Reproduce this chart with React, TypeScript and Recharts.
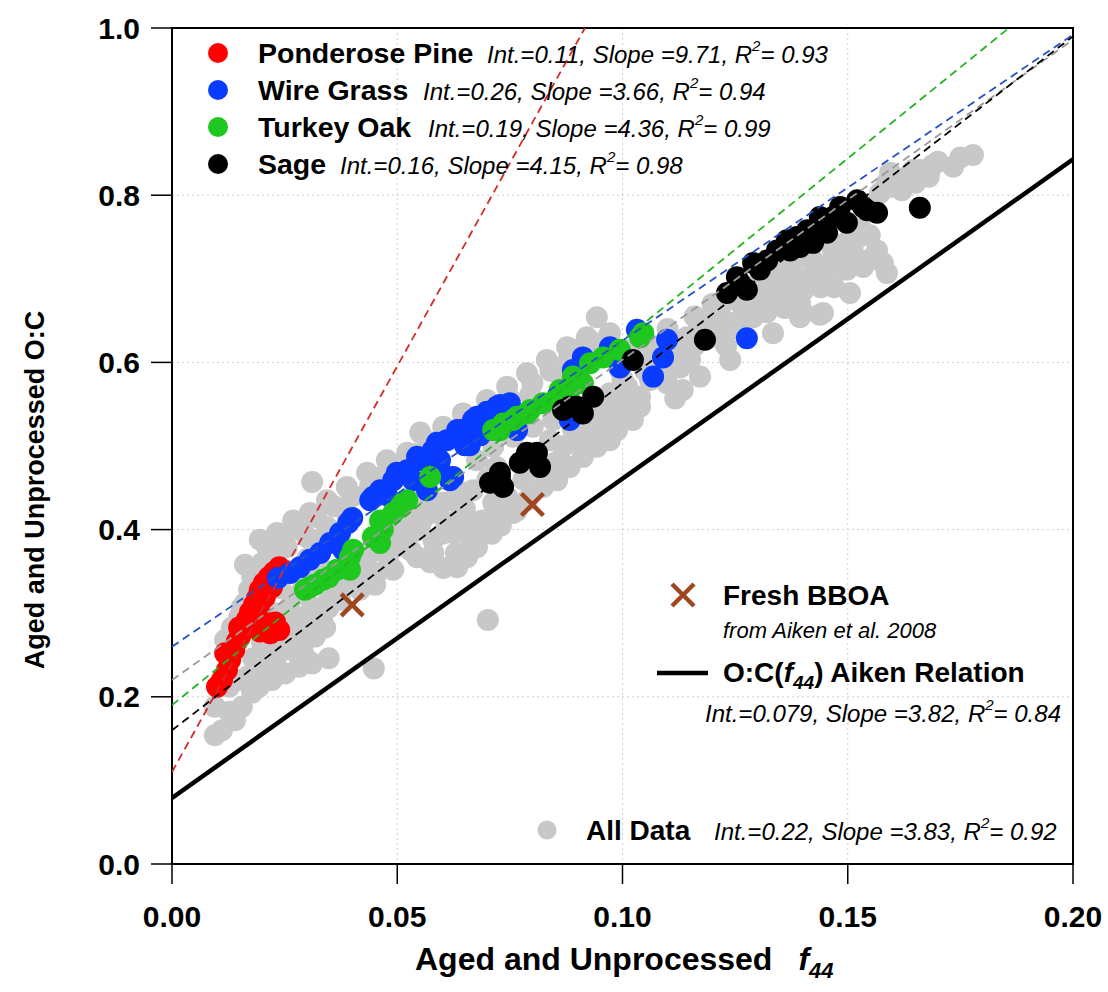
import React from "react";
import { ScatterChart, Scatter, XAxis, YAxis, CartesianGrid, ReferenceArea } from "recharts";

const FONT = '"Liberation Sans", Arial, Helvetica, sans-serif';

// ─── Axes ──────────────────────────────────────────────────────────────────────
const xTicks = [0, 0.05, 0.1, 0.15, 0.2];
const yTicks = [0, 0.2, 0.4, 0.6, 0.8, 1.0];

// ─── Data: [f44, O:C] ──────────────────────────────────────────────────────────
const ponderosePine: [number, number][] = [
  [0.0100, 0.212], [0.0111, 0.220], [0.0122, 0.232], [0.0129, 0.244], [0.0118, 0.252],
  [0.0138, 0.256], [0.0144, 0.266], [0.0151, 0.272], [0.0160, 0.282], [0.0149, 0.283],
  [0.0166, 0.292], [0.0173, 0.301], [0.0182, 0.310], [0.0189, 0.318], [0.0193, 0.307],
  [0.0195, 0.328], [0.0206, 0.319], [0.0204, 0.336], [0.0222, 0.331], [0.0215, 0.343],
  [0.0229, 0.340], [0.0226, 0.349], [0.0238, 0.355], [0.0178, 0.288], [0.0195, 0.278],
  [0.0211, 0.288], [0.0218, 0.276], [0.0229, 0.289], [0.0238, 0.280],
];

const wireGrass: [number, number][] = [
  [0.0235, 0.342], [0.0262, 0.348], [0.0284, 0.355], [0.0306, 0.364], [0.0329, 0.372],
  [0.0351, 0.384], [0.0373, 0.396], [0.0391, 0.408], [0.0380, 0.376], [0.0388, 0.372],
  [0.0400, 0.414], [0.0440, 0.435], [0.0446, 0.439], [0.0462, 0.447], [0.0477, 0.441],
  [0.0491, 0.459], [0.0499, 0.468], [0.0522, 0.471], [0.0535, 0.459], [0.0544, 0.487],
  [0.0551, 0.483], [0.0566, 0.447], [0.0579, 0.495], [0.0588, 0.504], [0.0595, 0.483],
  [0.0595, 0.471], [0.0610, 0.507], [0.0617, 0.459], [0.0624, 0.463], [0.0633, 0.519],
  [0.0639, 0.519], [0.0650, 0.501], [0.0661, 0.501], [0.0668, 0.531], [0.0677, 0.535],
  [0.0684, 0.513], [0.0699, 0.541], [0.0706, 0.525], [0.0721, 0.547], [0.0728, 0.549],
  [0.0750, 0.551], [0.0766, 0.519], [0.0883, 0.531], [0.0890, 0.591], [0.0912, 0.606],
  [0.0972, 0.618], [0.0994, 0.594], [0.1032, 0.639], [0.1068, 0.583], [0.1090, 0.606],
  [0.1099, 0.627], [0.1276, 0.629],
];

const turkeyOak: [number, number][] = [
  [0.0295, 0.328], [0.0306, 0.331], [0.0317, 0.334], [0.0335, 0.340], [0.0348, 0.343],
  [0.0366, 0.352], [0.0395, 0.352], [0.0395, 0.367], [0.0402, 0.376], [0.0446, 0.391],
  [0.0462, 0.384], [0.0462, 0.411], [0.0468, 0.400], [0.0491, 0.420], [0.0506, 0.427],
  [0.0513, 0.432], [0.0522, 0.435], [0.0573, 0.463], [0.0713, 0.519], [0.0728, 0.519],
  [0.0735, 0.527], [0.0757, 0.531], [0.0766, 0.535], [0.0788, 0.539], [0.0795, 0.543],
  [0.0824, 0.551], [0.0855, 0.559], [0.0861, 0.567], [0.0883, 0.567], [0.0890, 0.583],
  [0.0912, 0.575], [0.0928, 0.599], [0.0957, 0.606], [0.0994, 0.615], [0.1039, 0.630],
  [0.1046, 0.635],
];

const sage: [number, number][] = [
  [0.0706, 0.456], [0.0728, 0.468], [0.0735, 0.451], [0.0728, 0.463], [0.0772, 0.480],
  [0.0788, 0.492], [0.0810, 0.492], [0.0817, 0.475], [0.0868, 0.543], [0.0883, 0.547],
  [0.0899, 0.547], [0.0912, 0.539], [0.0935, 0.559], [0.1023, 0.603], [0.1183, 0.627],
  [0.1232, 0.683], [0.1254, 0.702], [0.1261, 0.695], [0.1276, 0.687], [0.1290, 0.719],
  [0.1305, 0.711], [0.1321, 0.722], [0.1343, 0.734], [0.1365, 0.746], [0.1372, 0.734],
  [0.1387, 0.750], [0.1394, 0.738], [0.1410, 0.758], [0.1423, 0.743], [0.1438, 0.774],
  [0.1438, 0.758], [0.1454, 0.755], [0.1467, 0.774], [0.1483, 0.786], [0.1498, 0.767],
  [0.1521, 0.794], [0.1534, 0.786], [0.1543, 0.782], [0.1565, 0.779], [0.1660, 0.785],
];

const allData: [number, number][] = [
  // lower-left tail
  [0.0095, 0.154], [0.0111, 0.160], [0.0140, 0.172], [0.0127, 0.182], [0.0155, 0.188],
  [0.0095, 0.188], [0.0178, 0.205], [0.0193, 0.212], [0.0127, 0.212], [0.0149, 0.220],
  [0.0222, 0.220], [0.0251, 0.228], [0.0282, 0.236], [0.0311, 0.240], [0.0348, 0.246],
  [0.0295, 0.248], [0.0266, 0.256], [0.0238, 0.260], [0.0118, 0.268], [0.0317, 0.272],
  [0.0269, 0.272], [0.0340, 0.283], [0.0260, 0.283], [0.0133, 0.283], [0.0333, 0.295],
  [0.0282, 0.295], [0.0149, 0.295], [0.0306, 0.292], [0.0348, 0.307], [0.0311, 0.307],
  [0.0260, 0.307], [0.0162, 0.312], [0.0155, 0.307], [0.0344, 0.312], [0.0373, 0.316],
  [0.0184, 0.331], [0.0171, 0.328], [0.0178, 0.343], [0.0162, 0.358], [0.0200, 0.360],
  [0.0222, 0.372], [0.0244, 0.379], [0.0448, 0.234],
  [0.0170, 0.225], [0.0200, 0.235], [0.0210, 0.250], [0.0230, 0.245], [0.0240, 0.272],
  [0.0290, 0.262], [0.0305, 0.280], [0.0180, 0.246], [0.0200, 0.265], [0.0230, 0.300],
  [0.0270, 0.320], [0.0290, 0.340], [0.0310, 0.350], [0.0350, 0.330], [0.0330, 0.355],
  [0.0300, 0.365], [0.0260, 0.350], [0.0240, 0.330],
  // upper band
  [0.0195, 0.388], [0.0233, 0.396], [0.0269, 0.411], [0.0306, 0.420], [0.0344, 0.435],
  [0.0388, 0.451], [0.0433, 0.468], [0.0477, 0.483], [0.0522, 0.492], [0.0551, 0.516],
  [0.0602, 0.523], [0.0646, 0.539], [0.0699, 0.555], [0.0744, 0.571], [0.0788, 0.587],
  [0.0832, 0.603], [0.0877, 0.618], [0.0921, 0.630], [0.0943, 0.654], [0.0972, 0.635],
  [0.0311, 0.457], [0.0218, 0.372], [0.0255, 0.379], [0.0300, 0.391], [0.0344, 0.403],
  [0.0388, 0.420], [0.0284, 0.400], [0.0329, 0.388], [0.0428, 0.441], [0.0495, 0.471],
  [0.0573, 0.495], [0.0661, 0.519], [0.0728, 0.543], [0.0795, 0.561], [0.0861, 0.585],
  [0.0917, 0.609],
  [0.0210, 0.380], [0.0250, 0.392], [0.0280, 0.405], [0.0320, 0.415], [0.0360, 0.428],
  [0.0400, 0.440], [0.0440, 0.452], [0.0460, 0.462], [0.0505, 0.478], [0.0540, 0.490],
  [0.0570, 0.505], [0.0620, 0.512], [0.0660, 0.528], [0.0700, 0.540], [0.0750, 0.556],
  [0.0800, 0.575], [0.0840, 0.590], [0.0880, 0.603], [0.0950, 0.623], [0.0900, 0.615],
  // middle band
  [0.0417, 0.372], [0.0455, 0.379], [0.0491, 0.391], [0.0535, 0.411], [0.0579, 0.423],
  [0.0624, 0.435], [0.0668, 0.447], [0.0677, 0.483], [0.0713, 0.499], [0.0757, 0.511],
  [0.0801, 0.523], [0.0846, 0.531], [0.0890, 0.539], [0.0935, 0.547], [0.0972, 0.563],
  [0.1010, 0.571], [0.1039, 0.547], [0.1023, 0.531], [0.0551, 0.435], [0.0528, 0.429],
  [0.0380, 0.331], [0.0417, 0.340], [0.0455, 0.348], [0.0491, 0.352], [0.0417, 0.328],
  [0.0451, 0.334],
  [0.0420, 0.360], [0.0440, 0.372], [0.0480, 0.368], [0.0500, 0.380], [0.0520, 0.392],
  [0.0540, 0.398], [0.0560, 0.415], [0.0590, 0.420], [0.0600, 0.432], [0.0640, 0.445],
  [0.0650, 0.425], [0.0700, 0.460], [0.0720, 0.475], [0.0580, 0.388], [0.0600, 0.395],
  // lower lobe
  [0.0544, 0.367], [0.0573, 0.361], [0.0602, 0.354], [0.0633, 0.355], [0.0655, 0.367],
  [0.0677, 0.379], [0.0661, 0.391], [0.0624, 0.396], [0.0610, 0.408], [0.0633, 0.411],
  [0.0661, 0.411], [0.0690, 0.411], [0.0721, 0.408], [0.0735, 0.420], [0.0750, 0.427],
  [0.0684, 0.400], [0.0713, 0.432], [0.0744, 0.439], [0.0757, 0.420], [0.0506, 0.400],
  [0.0551, 0.405], [0.0701, 0.292],
  [0.0530, 0.375], [0.0580, 0.372], [0.0630, 0.372], [0.0670, 0.392], [0.0710, 0.395],
  [0.0730, 0.405],
  [0.0766, 0.423], [0.0788, 0.435], [0.0824, 0.451], [0.0855, 0.459], [0.0883, 0.475],
  [0.0912, 0.487], [0.0943, 0.499], [0.0972, 0.507], [0.0988, 0.519], [0.0861, 0.483],
  [0.0906, 0.507], [0.0950, 0.525], [0.0839, 0.507],
  [0.0800, 0.445], [0.0820, 0.470], [0.0850, 0.480], [0.0870, 0.500], [0.0890, 0.520],
  [0.0920, 0.510], [0.0930, 0.530], [0.0960, 0.540], [0.0980, 0.560], [0.1000, 0.580],
  [0.1000, 0.550], [0.0780, 0.460],
  // right
  [0.0966, 0.511], [0.0972, 0.551], [0.1039, 0.559], [0.1099, 0.575], [0.1128, 0.594],
  [0.1172, 0.583], [0.1134, 0.567], [0.1239, 0.603], [0.1194, 0.630], [0.1245, 0.647],
  [0.1299, 0.663], [0.1334, 0.635], [0.1401, 0.659], [0.1445, 0.659], [0.1365, 0.683],
  [0.1410, 0.695], [0.1454, 0.702], [0.1498, 0.711], [0.1543, 0.722], [0.1578, 0.719],
  [0.1565, 0.734], [0.1512, 0.731], [0.1467, 0.734], [0.1423, 0.722], [0.1378, 0.702],
  [0.1334, 0.695], [0.1290, 0.687], [0.1261, 0.671], [0.1216, 0.663], [0.1188, 0.651],
  [0.1143, 0.630], [0.1105, 0.615], [0.1068, 0.606], [0.1505, 0.683], [0.1534, 0.714],
  [0.1587, 0.707], [0.1394, 0.671], [0.1350, 0.671], [0.1394, 0.654], [0.1438, 0.657],
  [0.1290, 0.654], [0.1150, 0.603], [0.1061, 0.579], [0.0994, 0.537], [0.1117, 0.557],
  [0.1305, 0.699], [0.1372, 0.717], [0.1461, 0.746], [0.1527, 0.764], [0.1549, 0.752],
  [0.0994, 0.591], [0.1017, 0.615], [0.1061, 0.621],
  [0.1050, 0.590], [0.1080, 0.595], [0.1100, 0.590], [0.1130, 0.610], [0.1160, 0.620],
  [0.1170, 0.640], [0.1200, 0.645], [0.1220, 0.640], [0.1230, 0.620], [0.1260, 0.640],
  [0.1280, 0.660], [0.1320, 0.660], [0.1320, 0.680], [0.1360, 0.665], [0.1400, 0.685],
  [0.1440, 0.690], [0.1420, 0.705], [0.1460, 0.718], [0.1480, 0.728], [0.1500, 0.745],
  [0.1520, 0.748], [0.1470, 0.690], [0.1380, 0.720], [0.1350, 0.710], [0.1250, 0.680],
  [0.1200, 0.670], [0.1160, 0.655], [0.1100, 0.640],
  // upper right
  [0.1689, 0.836], [0.1734, 0.834], [0.1778, 0.848], [0.1660, 0.830], [0.1632, 0.822],
  [0.1600, 0.810], [0.1572, 0.803], [0.1594, 0.827], [0.1556, 0.791], [0.1587, 0.815],
  [0.1616, 0.818], [0.1645, 0.830],
  [0.1650, 0.815], [0.1700, 0.840], [0.1680, 0.822], [0.1620, 0.806], [0.1750, 0.845],
];

const freshBBOA: [number, number][] = [
  [0.04, 0.31],
  [0.08, 0.43],
];

// ─── Linear fits (from the legend) ─────────────────────────────────────────────
const seriesNames = ["Ponderose Pine", "Wire Grass", "Turkey Oak", "Sage"];
const fitInt = [0.11, 0.26, 0.19, 0.16];
const fitSlope = [9.71, 3.66, 4.36, 4.15];
const fitR2 = [0.93, 0.94, 0.99, 0.98];
const allFit = { int: 0.22, slope: 3.83, r2: 0.92 };
const aikenFit = { int: 0.079, slope: 3.82, r2: 0.84 };

const seriesColors = ["#ff0000", "#0a3cff", "#1ec81e", "#000000"];
const dashColors = ["#d42a2a", "#2352c8", "#22b422", "#000000"];
const GRAY = "#c8c8c8";

const toPts = (a: [number, number][]) => a.map(([x, y]) => ({ x, y }));

function fitLine(int: number, slope: number) {
  const xEnd = Math.min(0.2, (1 - int) / slope);
  return [
    { x: 0, y: int },
    { x: xEnd, y: int + slope * xEnd },
  ];
}

const dot = (fill: string) => (p: any) => <circle cx={p.cx} cy={p.cy} r={11} fill={fill} />;
const cross = (p: any) => (
  <g stroke="#a0461e" strokeWidth={4.5}>
    <line x1={p.cx - 11} y1={p.cy - 11} x2={p.cx + 11} y2={p.cy + 11} />
    <line x1={p.cx - 11} y1={p.cy + 11} x2={p.cx + 11} y2={p.cy - 11} />
  </g>
);
const noShape = () => <g />;

// ─── Legend text helpers ───────────────────────────────────────────────────────

function FitText({ x, y, int, slope, r2 }: { x: number; y: number; int: number; slope: number; r2: number }) {
  return (
    <text x={x} y={y} fontSize={24} fontStyle="italic" fill="#000">
      Int.={String(int)}, Slope ={String(slope)}, R
      <tspan dy={-12} fontSize={15}>2</tspan>
      <tspan dy={12}>= {String(r2)}</tspan>
    </text>
  );
}

const rowBase = [63, 100, 137, 174];
const rowFitX = [487, 423, 428, 340];

export default function App() {
  return (
    <div style={{ position: "absolute", left: 0, top: 0, width: 1108, height: 992, background: "#fff", fontFamily: FONT }}>
      <ScatterChart width={1108} height={992} margin={{ top: 28, right: 35, bottom: 68, left: 72 }}>
        <CartesianGrid stroke="#cfcfcf" strokeDasharray="2 3" />
        <XAxis
          dataKey="x"
          type="number"
          domain={[0, 0.2]}
          ticks={xTicks}
          interval={0}
          allowDataOverflow
          height={60}
          tickSize={20}
          tickMargin={22}
          tickFormatter={(v: number) => v.toFixed(2)}
          axisLine={{ stroke: "#000", strokeWidth: 2 }}
          tickLine={{ stroke: "#000", strokeWidth: 1.5 }}
          tick={{ fill: "#000", fontSize: 30, fontWeight: 700, fontFamily: FONT }}
        />
        <YAxis
          dataKey="y"
          type="number"
          domain={[0, 1]}
          ticks={yTicks}
          interval={0}
          allowDataOverflow
          width={100}
          tickSize={21}
          tickMargin={11}
          tickFormatter={(v: number) => v.toFixed(1)}
          axisLine={{ stroke: "#000", strokeWidth: 2 }}
          tickLine={{ stroke: "#000", strokeWidth: 1.5 }}
          tick={{ fill: "#000", fontSize: 30, fontWeight: 700, fontFamily: FONT }}
        />

        <Scatter data={toPts(allData)} shape={dot(GRAY)} isAnimationActive={false} />
        <Scatter data={toPts(ponderosePine)} shape={dot(seriesColors[0])} isAnimationActive={false} />
        <Scatter data={toPts(wireGrass)} shape={dot(seriesColors[1])} isAnimationActive={false} />
        <Scatter data={toPts(turkeyOak)} shape={dot(seriesColors[2])} isAnimationActive={false} />
        <Scatter data={toPts(sage)} shape={dot(seriesColors[3])} isAnimationActive={false} />
        <Scatter data={toPts(freshBBOA)} shape={cross} isAnimationActive={false} />

        <Scatter
          data={fitLine(allFit.int, allFit.slope)}
          line={{ stroke: "#9a9a9a", strokeWidth: 1.8, strokeDasharray: "8 5" }}
          shape={noShape}
          isAnimationActive={false}
        />
        {[1, 2, 3, 0].map((i) => (
          <Scatter
            key={seriesNames[i]}
            data={fitLine(fitInt[i], fitSlope[i])}
            line={{ stroke: dashColors[i], strokeWidth: 1.8, strokeDasharray: "8 5" }}
            shape={noShape}
            isAnimationActive={false}
          />
        ))}
        <Scatter
          data={fitLine(aikenFit.int, aikenFit.slope)}
          line={{ stroke: "#000", strokeWidth: 4.5 }}
          shape={noShape}
          isAnimationActive={false}
        />

        <ReferenceArea x1={0} x2={0.2} y1={0} y2={1} fill="none" fillOpacity={0} stroke="#000" strokeWidth={2} ifOverflow="visible" />
      </ScatterChart>

      {/* Legends and axis titles */}
      <svg width={1108} height={992} style={{ position: "absolute", left: 0, top: 0, pointerEvents: "none" }} fontFamily={FONT}>
        {seriesNames.map((name, i) => (
          <g key={name}>
            <circle cx={218} cy={rowBase[i] - 10} r={10} fill={seriesColors[i]} />
            <text x={258} y={rowBase[i]} fontSize={28.5} fontWeight={700} fill="#000">
              {name}
            </text>
            <FitText x={rowFitX[i]} y={rowBase[i]} int={fitInt[i]} slope={fitSlope[i]} r2={fitR2[i]} />
          </g>
        ))}

        <g stroke="#a0461e" strokeWidth={4.5}>
          <line x1={672} y1={584} x2={694} y2={606} />
          <line x1={672} y1={606} x2={694} y2={584} />
        </g>
        <text x={723} y={605} fontSize={28} fontWeight={700} fill="#000">Fresh BBOA</text>
        <text x={723} y={638} fontSize={22} fontStyle="italic" fill="#000">from Aiken et al. 2008</text>
        <line x1={657} y1={673} x2={708} y2={673} stroke="#000" strokeWidth={4.5} />
        <text x={723} y={682} fontSize={28} fontWeight={700} fill="#000">
          O:C(<tspan fontStyle="italic">f</tspan>
          <tspan fontStyle="italic" fontSize={19} dy={7}>44</tspan>
          <tspan dy={-7}>) Aiken Relation</tspan>
        </text>
        <FitText x={705} y={722} int={aikenFit.int} slope={aikenFit.slope} r2={aikenFit.r2} />

        <circle cx={547} cy={830} r={9.5} fill={GRAY} />
        <text x={586} y={840} fontSize={28} fontWeight={700} fill="#000">All Data</text>
        <FitText x={714} y={840} int={allFit.int} slope={allFit.slope} r2={allFit.r2} />

        <text x={415} y={970} fontSize={32} fontWeight={700} fill="#000">
          Aged and Unprocessed
          <tspan dx={26} fontStyle="italic">f</tspan>
          <tspan fontStyle="italic" fontSize={22} dy={8}>44</tspan>
        </text>
        <text transform="translate(44,490) rotate(-90)" textAnchor="middle" fontSize={27} fontWeight={700} fill="#000">
          Aged and Unprocessed O:C
        </text>
      </svg>
    </div>
  );
}
